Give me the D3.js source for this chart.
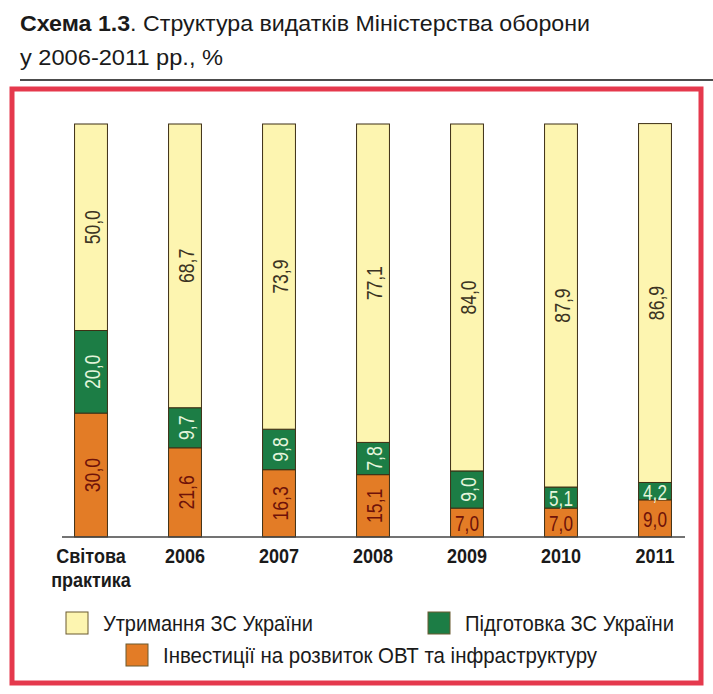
<!DOCTYPE html>
<html><head><meta charset="utf-8">
<script src="https://cdn.jsdelivr.net/npm/d3@7"></script>
<style>
body{margin:0;background:#fff;}
svg{display:block;}
text{font-family:"Liberation Sans",Arial,sans-serif;}
</style></head>
<body>
<svg id="c" width="713" height="694"></svg>
<script>
const categories = ["Світова практика","2006","2007","2008","2009","2010","2011"];
const seriesNames = ["Інвестиції на розвиток ОВТ та інфраструктуру","Підготовка ЗС України","Утримання ЗС України"];
const investment = [30.0, 21.6, 16.3, 15.1, 7.0, 7.0, 9.0];
const training = [20.0, 9.7, 9.8, 7.8, 9.0, 5.1, 4.2];
const maintenance = [50.0, 68.7, 73.9, 77.1, 84.0, 87.9, 86.9];
const horizontalLabels = ["inv|2009","inv|2010","inv|2011","tr|2010","tr|2011"];

const keys = ["inv","tr","mt"];
const colors = {inv:"#e37c26", tr:"#1c7d45", mt:"#fdf5b0"};
const labelColors = {inv:"#6e1209", tr:"#e4f5dc", mt:"#3b3322"};
const rows = categories.map((c,i)=>({cat:c, inv:investment[i], tr:training[i], mt:maintenance[i]}));

const svg = d3.select("#c");

// title
const t1 = svg.append("text").attr("x",20).attr("y",31).attr("font-size",22).attr("fill","#1a1a1a")
  .attr("textLength",570).attr("lengthAdjust","spacingAndGlyphs");
t1.append("tspan").attr("font-weight","bold").text("Схема 1.3");
t1.append("tspan").text(". Структура видатків Міністерства оборони");
svg.append("text").attr("x",20).attr("y",65).attr("font-size",22).attr("fill","#1a1a1a")
  .attr("textLength",203).attr("lengthAdjust","spacingAndGlyphs").text("у 2006-2011 рр., %");
svg.append("line").attr("x1",20).attr("x2",713).attr("y1",80).attr("y2",80).attr("stroke","#111").attr("stroke-width",1.6);

// frame
svg.append("rect").attr("x",12).attr("y",89).attr("width",689).attr("height",594)
  .attr("fill","none").attr("stroke","#e5394d").attr("stroke-width",5);

const x = d3.scaleBand().domain(categories).range([44,702]).paddingInner(0.65).paddingOuter(0.325);
const y = d3.scaleLinear().domain([0,100]).range([537,124]);

const stack = d3.stack().keys(keys)(rows);

const g = svg.append("g");
stack.forEach(layer=>{
  g.selectAll(null).data(layer).join("rect")
    .attr("x",d=>x(d.data.cat)).attr("width",x.bandwidth())
    .attr("y",d=>y(d[1])).attr("height",d=>y(d[0])-y(d[1]))
    .attr("fill",colors[layer.key]).attr("stroke","#3d2f14").attr("stroke-width",1);
});

// baseline axis
svg.append("line").attr("x1",62).attr("x2",685).attr("y1",y(0)).attr("y2",y(0)).attr("stroke","#444").attr("stroke-width",1.3);

// value labels
const fmt = v=>v.toFixed(1).replace(".",",");
stack.forEach(layer=>{
  layer.forEach(d=>{
    const v = d.data[layer.key];
    const cx = x(d.data.cat)+x.bandwidth()/2;
    const cy = (y(d[0])+y(d[1]))/2;
    const horiz = horizontalLabels.includes(layer.key+"|"+d.data.cat);
    const t = g.append("text").attr("font-size",22).attr("fill",labelColors[layer.key])
      .attr("text-anchor","middle").attr("dominant-baseline","central").text(fmt(v));
    if(horiz) t.attr("transform",`translate(${cx},${cy+1}) scale(0.78,1)`);
    else t.attr("transform",`translate(${cx+1},${cy}) rotate(-90) scale(0.8,1)`);
  });
});

// category labels
categories.forEach(c=>{
  const parts = c.split(" ");
  const cx = x(c)+x.bandwidth()/2;
  parts.forEach((p,i)=>{
    svg.append("text").attr("transform",`translate(${cx},${563+i*24}) scale(0.9,1)`)
      .attr("text-anchor","middle").attr("font-size",20).attr("font-weight","bold").attr("fill","#1a1a1a").text(p);
  });
});

// legend
const legend = [
  {key:"mt", name:seriesNames[2], x:66, y:612, w:210},
  {key:"tr", name:seriesNames[1], x:428, y:612, w:209},
  {key:"inv", name:seriesNames[0], x:126, y:644, w:434}
];
legend.forEach(l=>{
  svg.append("rect").attr("x",l.x).attr("y",l.y).attr("width",22).attr("height",22)
    .attr("fill",colors[l.key]).attr("stroke","#6b5a30").attr("stroke-width",1);
  svg.append("text").attr("x",l.x+37).attr("y",l.y+19)
    .attr("font-size",22).attr("fill","#1a1a1a")
    .attr("textLength",l.w).attr("lengthAdjust","spacingAndGlyphs").text(l.name);
});
</script>
</body></html>
